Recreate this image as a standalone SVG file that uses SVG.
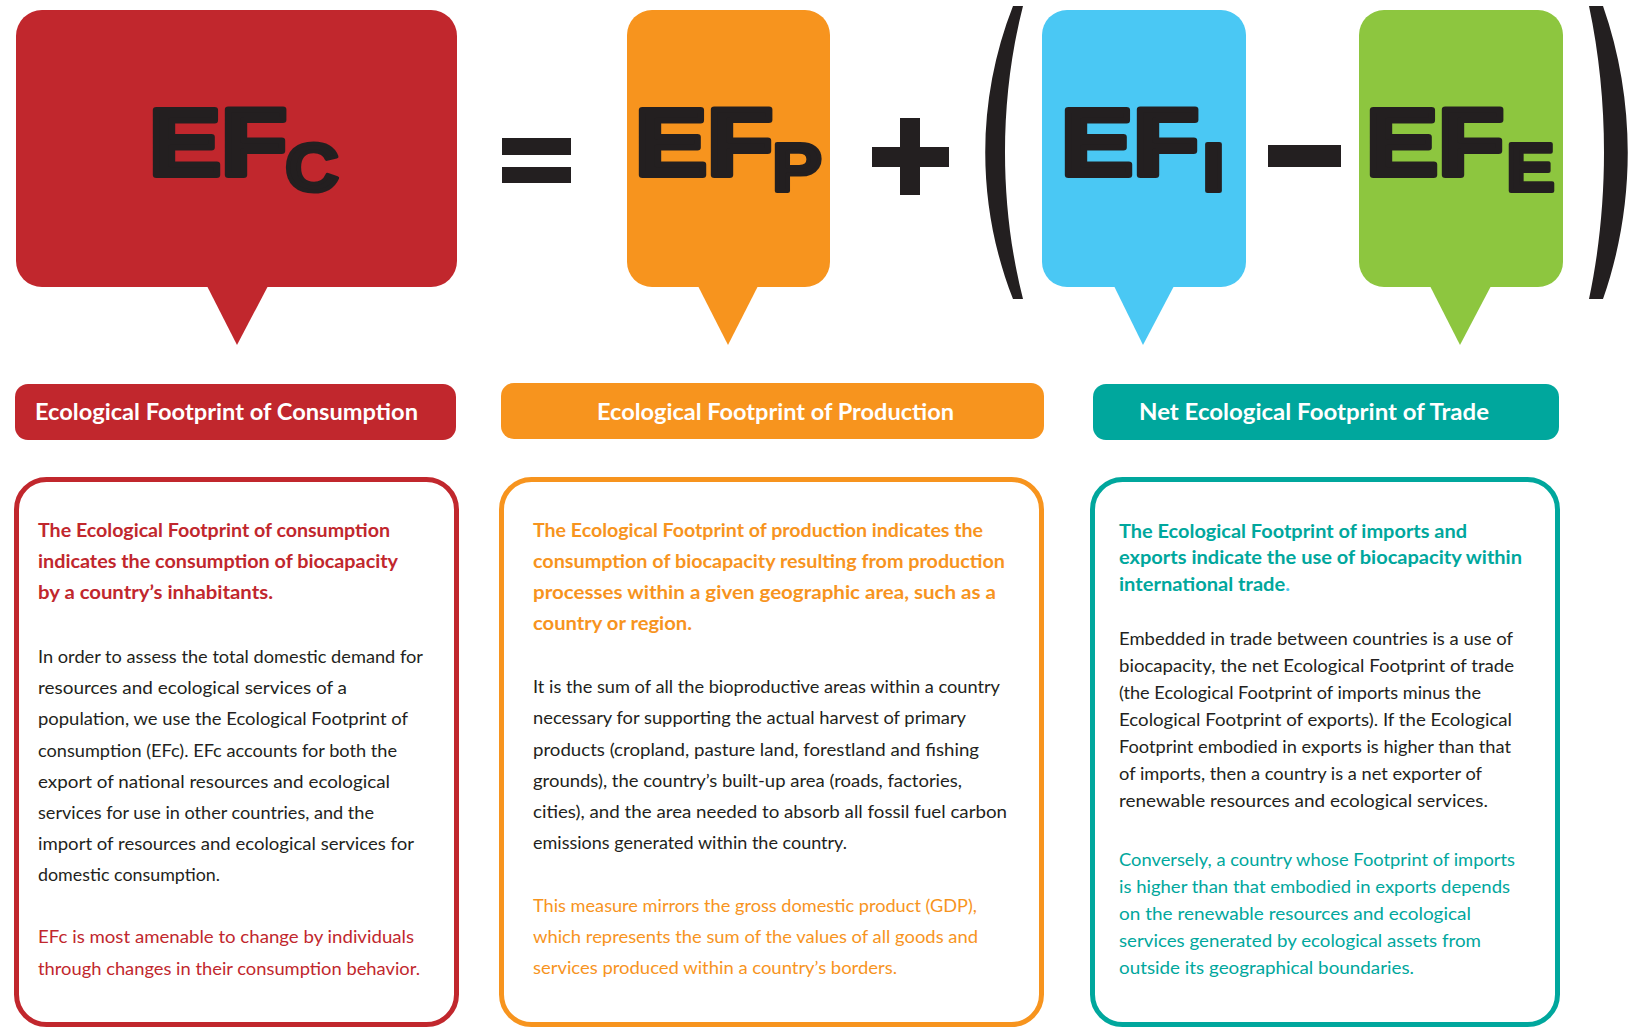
<svg xmlns="http://www.w3.org/2000/svg" width="1629" height="1028" viewBox="0 0 1629 1028">
<style>
.big{font-family:"Liberation Sans",Arial,sans-serif;font-weight:700;font-size:95px;fill:#231F20;stroke:#231F20;stroke-width:6px;stroke-linejoin:round}
.sub{font-family:"Liberation Sans",Arial,sans-serif;font-weight:700;font-size:68px;fill:#231F20;stroke:#231F20;stroke-width:4px;stroke-linejoin:round}
.op{fill:#231F20}
.lbl{font-family:Lato,"Open Sans",sans-serif;font-weight:700;font-size:22px;fill:#FFFFFF}
.hd{font-family:Lato,"Open Sans",sans-serif;font-weight:700;font-size:19px}
.bd{font-family:Lato,"Open Sans",sans-serif;font-weight:400;font-size:18px}
.dark{fill:#231F20}
.red{fill:#C1272D}
.org{fill:#F7941E}
.teal{fill:#00A79D}
.card{fill:#FFFFFF;stroke-width:5px}
</style>

<g id="bubble-efc">
  <rect x="16" y="10" width="441" height="277" rx="26" fill="#C1272D"/>
  <polygon points="207,286 268,286 237,345" fill="#C1272D"/>
  <text class="big" x="149" y="175" textLength="138" lengthAdjust="spacingAndGlyphs">EF</text>
  <text class="sub" x="285" y="191" textLength="54" lengthAdjust="spacingAndGlyphs">C</text>
</g>

<g id="op-equals">
  <rect class="op" x="502" y="138" width="69" height="17"/>
  <rect class="op" x="502" y="167" width="69" height="16"/>
</g>

<g id="bubble-efp">
  <rect x="627" y="10" width="203" height="277" rx="25" fill="#F7941E"/>
  <polygon points="698,286 758,286 728,345" fill="#F7941E"/>
  <text class="big" x="635" y="175" textLength="138" lengthAdjust="spacingAndGlyphs">EF</text>
  <text class="sub" x="772" y="191" textLength="50" lengthAdjust="spacingAndGlyphs">P</text>
</g>

<g id="op-plus">
  <rect class="op" x="872" y="147" width="77" height="20"/>
  <rect class="op" x="900" y="118" width="20" height="77"/>
</g>

<g id="paren-left">
  <path class="op" d="M1013,6 L1023,6 C999,100 999,205 1023,299 L1013,299 C976,205 976,100 1013,6 Z"/>
</g>

<g id="bubble-efi">
  <rect x="1042" y="10" width="204" height="277" rx="25" fill="#4AC8F4"/>
  <polygon points="1114,286 1174,286 1143,345" fill="#4AC8F4"/>
  <text class="big" x="1061" y="175" textLength="138" lengthAdjust="spacingAndGlyphs">EF</text>
  <text class="sub" x="1202" y="191" textLength="23" lengthAdjust="spacingAndGlyphs">I</text>
</g>

<g id="op-minus">
  <rect class="op" x="1268" y="145" width="73" height="22"/>
</g>

<g id="bubble-efe">
  <rect x="1359" y="10" width="204" height="277" rx="25" fill="#8DC63F"/>
  <polygon points="1430,286 1491,286 1460,345" fill="#8DC63F"/>
  <text class="big" x="1366" y="175" textLength="138" lengthAdjust="spacingAndGlyphs">EF</text>
  <text class="sub" x="1506" y="191" textLength="49" lengthAdjust="spacingAndGlyphs">E</text>
</g>

<g id="paren-right">
  <path class="op" d="M1603,6 L1589,6 C1609,100 1609,205 1589,299 L1603,299 C1636,205 1636,100 1603,6 Z"/>
</g>

<g id="label-consumption">
  <rect x="15" y="384" width="441" height="56" rx="13" fill="#C1272D"/>
  <text class="lbl" x="35" y="420" textLength="383" lengthAdjust="spacingAndGlyphs">Ecological Footprint of Consumption</text>
</g>

<g id="label-production">
  <rect x="501" y="383" width="543" height="56" rx="13" fill="#F7941E"/>
  <text class="lbl" x="597" y="420" textLength="357" lengthAdjust="spacingAndGlyphs">Ecological Footprint of Production</text>
</g>

<g id="label-trade">
  <rect x="1093" y="384" width="466" height="56" rx="13" fill="#00A79D"/>
  <text class="lbl" x="1139" y="420" textLength="350" lengthAdjust="spacingAndGlyphs">Net Ecological Footprint of Trade</text>
</g>

<g id="card-consumption">
  <rect class="card" x="16.5" y="479.5" width="440" height="545" rx="30" stroke="#C1272D"/>
  <text class="hd red" x="38" y="537" textLength="352" lengthAdjust="spacingAndGlyphs">The Ecological Footprint of consumption</text>
  <text class="hd red" x="38" y="568" textLength="360" lengthAdjust="spacingAndGlyphs">indicates the consumption of biocapacity</text>
  <text class="hd red" x="38" y="599" textLength="235" lengthAdjust="spacingAndGlyphs">by a country’s inhabitants.</text>
  <text class="bd dark" x="38" y="663" textLength="385" lengthAdjust="spacingAndGlyphs">In order to assess the total domestic demand for</text>
  <text class="bd dark" x="38" y="694" textLength="309" lengthAdjust="spacingAndGlyphs">resources and ecological services of a</text>
  <text class="bd dark" x="38" y="725" textLength="370" lengthAdjust="spacingAndGlyphs">population, we use the Ecological Footprint of</text>
  <text class="bd dark" x="38" y="757" textLength="359" lengthAdjust="spacingAndGlyphs">consumption (EFc). EFc accounts for both the</text>
  <text class="bd dark" x="38" y="788" textLength="352" lengthAdjust="spacingAndGlyphs">export of national resources and ecological</text>
  <text class="bd dark" x="38" y="819" textLength="336" lengthAdjust="spacingAndGlyphs">services for use in other countries, and the</text>
  <text class="bd dark" x="38" y="850" textLength="376" lengthAdjust="spacingAndGlyphs">import of resources and ecological services for</text>
  <text class="bd dark" x="38" y="881" textLength="182" lengthAdjust="spacingAndGlyphs">domestic consumption.</text>
  <text class="bd red" x="38" y="943" textLength="376" lengthAdjust="spacingAndGlyphs">EFc is most amenable to change by individuals</text>
  <text class="bd red" x="38" y="975" textLength="382" lengthAdjust="spacingAndGlyphs">through changes in their consumption behavior.</text>
</g>

<g id="card-production">
  <rect class="card" x="501.5" y="479.5" width="540" height="545" rx="30" stroke="#F7941E"/>
  <text class="hd org" x="533" y="537" textLength="450" lengthAdjust="spacingAndGlyphs">The Ecological Footprint of production indicates the</text>
  <text class="hd org" x="533" y="568" textLength="472" lengthAdjust="spacingAndGlyphs">consumption of biocapacity resulting from production</text>
  <text class="hd org" x="533" y="599" textLength="463" lengthAdjust="spacingAndGlyphs">processes within a given geographic area, such as a</text>
  <text class="hd org" x="533" y="630" textLength="159" lengthAdjust="spacingAndGlyphs">country or region.</text>
  <text class="bd dark" x="533" y="693" textLength="467" lengthAdjust="spacingAndGlyphs">It is the sum of all the bioproductive areas within a country</text>
  <text class="bd dark" x="533" y="724" textLength="433" lengthAdjust="spacingAndGlyphs">necessary for supporting the actual harvest of primary</text>
  <text class="bd dark" x="533" y="756" textLength="446" lengthAdjust="spacingAndGlyphs">products (cropland, pasture land, forestland and fishing</text>
  <text class="bd dark" x="533" y="787" textLength="429" lengthAdjust="spacingAndGlyphs">grounds), the country’s built-up area (roads, factories,</text>
  <text class="bd dark" x="533" y="818" textLength="474" lengthAdjust="spacingAndGlyphs">cities), and the area needed to absorb all fossil fuel carbon</text>
  <text class="bd dark" x="533" y="849" textLength="314" lengthAdjust="spacingAndGlyphs">emissions generated within the country.</text>
  <text class="bd org" x="533" y="912" textLength="444" lengthAdjust="spacingAndGlyphs">This measure mirrors the gross domestic product (GDP),</text>
  <text class="bd org" x="533" y="943" textLength="445" lengthAdjust="spacingAndGlyphs">which represents the sum of the values of all goods and</text>
  <text class="bd org" x="533" y="974" textLength="364" lengthAdjust="spacingAndGlyphs">services produced within a country’s borders.</text>
</g>

<g id="card-trade">
  <rect class="card" x="1092.5" y="479.5" width="465" height="545" rx="30" stroke="#00A79D"/>
  <text class="hd teal" x="1119" y="538" textLength="348" lengthAdjust="spacingAndGlyphs">The Ecological Footprint of imports and</text>
  <text class="hd teal" x="1119" y="564" textLength="403" lengthAdjust="spacingAndGlyphs">exports indicate the use of biocapacity within</text>
  <text class="hd teal" x="1119" y="591" textLength="171" lengthAdjust="spacingAndGlyphs">international trade<tspan fill="#4AC8F4">.</tspan></text>
  <text class="bd dark" x="1119" y="645" textLength="394" lengthAdjust="spacingAndGlyphs">Embedded in trade between countries is a use of</text>
  <text class="bd dark" x="1119" y="672" textLength="395" lengthAdjust="spacingAndGlyphs">biocapacity, the net Ecological Footprint of trade</text>
  <text class="bd dark" x="1119" y="699" textLength="362" lengthAdjust="spacingAndGlyphs">(the Ecological Footprint of imports minus the</text>
  <text class="bd dark" x="1119" y="726" textLength="393" lengthAdjust="spacingAndGlyphs">Ecological Footprint of exports). If the Ecological</text>
  <text class="bd dark" x="1119" y="753" textLength="392" lengthAdjust="spacingAndGlyphs">Footprint embodied in exports is higher than that</text>
  <text class="bd dark" x="1119" y="780" textLength="363" lengthAdjust="spacingAndGlyphs">of imports, then a country is a net exporter of</text>
  <text class="bd dark" x="1119" y="807" textLength="369" lengthAdjust="spacingAndGlyphs">renewable resources and ecological services.</text>
  <text class="bd teal" x="1119" y="866" textLength="396" lengthAdjust="spacingAndGlyphs">Conversely, a country whose Footprint of imports</text>
  <text class="bd teal" x="1119" y="893" textLength="391" lengthAdjust="spacingAndGlyphs">is higher than that embodied in exports depends</text>
  <text class="bd teal" x="1119" y="920" textLength="352" lengthAdjust="spacingAndGlyphs">on the renewable resources and ecological</text>
  <text class="bd teal" x="1119" y="947" textLength="362" lengthAdjust="spacingAndGlyphs">services generated by ecological assets from</text>
  <text class="bd teal" x="1119" y="974" textLength="295" lengthAdjust="spacingAndGlyphs">outside its geographical boundaries.</text>
</g>
</svg>
